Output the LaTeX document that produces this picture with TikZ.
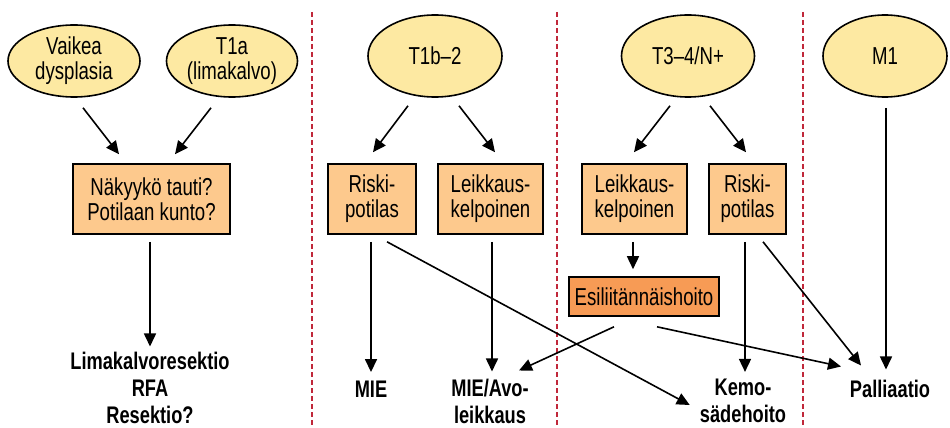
\documentclass[tikz,border=0pt]{standalone}
\usepackage{fontspec}
\setmainfont[FakeStretch=0.76]{Liberation Sans}
\usetikzlibrary{shapes.geometric,arrows.meta}
\definecolor{ellfill}{HTML}{FDE9A2}
\definecolor{boxfill}{HTML}{FDC98D}
\definecolor{esifill}{HTML}{F79B55}
\definecolor{divred}{HTML}{C0283A}
\begin{document}
\begin{tikzpicture}[x=1pt,y=-1pt,
  ell/.style={ellipse,draw=black,line width=1.6pt,fill=ellfill,inner sep=0pt,align=center,font=\fontsize{24.5}{25}\selectfont},
  box/.style={rectangle,draw=black,line width=1.6pt,fill=boxfill,inner sep=0pt,align=center,font=\fontsize{24.5}{25}\selectfont},
  res/.style={inner sep=0pt,align=center,font=\fontsize{24}{27}\selectfont\bfseries},
  arr/.style={line width=1.6pt,-{Triangle[length=13pt,width=12pt]}},
  divider/.style={draw=divred,line width=1.6pt,dash pattern=on 5pt off 3pt}]
\useasboundingbox (0,0) rectangle (950,428);
% dividers
\draw[divider] (312,12) -- (312,428);
\draw[divider] (557,12) -- (557,428);
\draw[divider] (803,12) -- (803,428);
% ellipses
\node[ell,minimum width=132pt,minimum height=72pt] (vd) at (74,61) {Vaikea\\dysplasia};
\node[ell,minimum width=131pt,minimum height=72pt] (t1a) at (232,61) {T1a\\(limakalvo)};
\node[ell,minimum width=134pt,minimum height=82pt] (t1b) at (435,56) {T1b–2};
\node[ell,minimum width=133pt,minimum height=82pt] (t34) at (688,56) {T3–4/N+};
\node[ell,minimum width=124pt,minimum height=82pt] (m1) at (885,56) {M1};
% boxes
\node[box,minimum width=157pt,minimum height=70pt] (nk) at (151.5,199) {Näkyykö tauti?\\Potilaan kunto?};
\node[box,minimum width=88pt,minimum height=70pt] (rp1) at (372,199) {Riski-\\potilas};
\node[box,minimum width=105pt,minimum height=70pt] (lk1) at (490.5,199) {Leikkaus-\\kelpoinen};
\node[box,minimum width=105pt,minimum height=70pt] (lk2) at (634.5,199) {Leikkaus-\\kelpoinen};
\node[box,minimum width=77pt,minimum height=70pt] (rp2) at (747.5,199) {Riski-\\potilas};
\node[box,fill=esifill,minimum width=150pt,minimum height=39pt] (esi) at (644,296.5) {Esiliitännäishoito};
% results
\node[res] (lim) at (150,388) {Limakalvoresektio\\RFA\\Resektio?};
\node[res] (mie) at (371,389) {MIE};
\node[res] (mieavo) at (490,401) {MIE/Avo-\\leikkaus};
\node[res] (kemo) at (743,401) {Kemo-\\sädehoito};
\node[res] (pal) at (890,389) {Palliaatio};
% arrows
\draw[arr] ([shift={(9,10)}]vd.south) -- ([shift={(-32.5,-9)}]nk.north);
\draw[arr] ([shift={(-21,10)}]t1a.south) -- ([shift={(23.5,-9)}]nk.north);
\draw[arr] ([shift={(-1.5,7)}]nk.south) -- ([shift={(0,-5.5)}]lim.north);
\draw[arr] ([shift={(-27,8)}]t1b.south) -- ([shift={(1,-11)}]rp1.north);
\draw[arr] ([shift={(24,8)}]t1b.south) -- ([shift={(4.5,-11)}]lk1.north);
\draw[arr] ([shift={(-18,8)}]t34.south) -- ([shift={(-0.5,-11)}]lk2.north);
\draw[arr] ([shift={(22,8)}]t34.south) -- ([shift={(-1.5,-11)}]rp2.north);
\draw[arr] ([shift={(1,10)}]m1.south) -- ([shift={(-4,-10.5)}]pal.north);
\draw[arr] ([shift={(-1,7)}]rp1.south) -- ([shift={(0,-8.5)}]mie.north);
\draw[arr] ([shift={(15,7)}]rp1.south) -- ([shift={(-10,4)}]kemo.west);
\draw[arr] ([shift={(1.5,7)}]lk1.south) -- ([shift={(2,-7)}]mieavo.north);
\draw[arr] ([shift={(-1.5,7)}]lk2.south) -- ([shift={(-11,-7)}]esi.north);
\draw[arr] ([shift={(-30,10)}]esi.south) -- ([shift={(29,-8)}]mieavo.north);
\draw[arr] ([shift={(13,10)}]esi.south) -- ([shift={(-49,-13.5)}]pal.north);
\draw[arr] ([shift={(-2.5,7)}]rp2.south) -- ([shift={(2,-7)}]kemo.north);
\draw[arr] ([shift={(15.5,7)}]rp2.south) -- ([shift={(-29,-14.5)}]pal.north);
\end{tikzpicture}
\end{document}
